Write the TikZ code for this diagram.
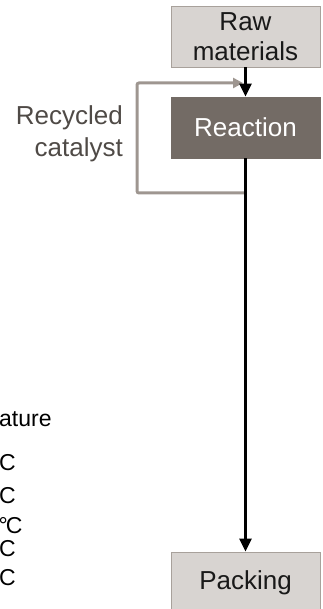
\documentclass[tikz,border=0pt]{standalone}
\usepackage{fontspec}
\setmainfont{Liberation Sans}
\usetikzlibrary{arrows.meta}
\definecolor{boxfill}{HTML}{D8D4D1}
\definecolor{boxline}{HTML}{A8A19B}
\definecolor{stepdark}{HTML}{736B65}
\definecolor{loopgray}{HTML}{9E9690}
\definecolor{labelgray}{HTML}{4F4A46}
\begin{document}
\begin{tikzpicture}[x=1pt,y=-1pt,
  procbox/.style={draw=boxline, line width=0.8pt, fill=boxfill,
    minimum width=149pt, minimum height=61pt, inner sep=0pt,
    align=center, font=\fontsize{26}{30}\selectfont, text=black!90},
  darkbox/.style={procbox, fill=stepdark, draw=stepdark, text=white},
  flow/.style={line width=2.5pt, -{Triangle[length=13pt,width=12pt]}},
  recycle/.style={draw=loopgray, line width=3pt, rounded corners=2pt,
    -{Triangle[length=10pt,width=10pt]}},
  sidelabel/.style={inner sep=0pt, anchor=base east,
    font=\fontsize{26}{30}\selectfont, text=labelgray},
  tablabel/.style={inner sep=0pt, anchor=base west,
    font=\fontsize{23}{27}\selectfont}]
\useasboundingbox (0,0) rectangle (322,609);

% process steps
\node[procbox]  (raw)      at (245.5,36.5)  {Raw\\materials};
\node[darkbox]  (reaction) at (245.5,127.5) {Reaction};
\node[procbox]  (packing)  at (245.5,582.5) {Packing};

% catalyst recycle loop
\coordinate (tap) at (244,193);
\coordinate (ret) at (243,83);
\draw[recycle] (tap) -- ++(-107,0) |- (ret);
\node[sidelabel] (rec1) at (123,125) {Recycled};
\node[sidelabel] (rec2) at (123,157) {catalyst};

% main flow
\draw[flow] (raw) -- (reaction);
\draw[flow] (reaction) -- (packing);

% table fragment at the left
\node[tablabel] (t0) at (-1,426) {ature};
\node[tablabel] (t1) at (-1,470) {C};
\node[tablabel] (t2) at (-1,503) {C};
\node[tablabel] (t3) at (-1.5,533) {°\kern-2ptC};
\node[tablabel] (t4) at (-1,556) {C};
\node[tablabel] (t5) at (-1,585) {C};
\end{tikzpicture}
\end{document}
